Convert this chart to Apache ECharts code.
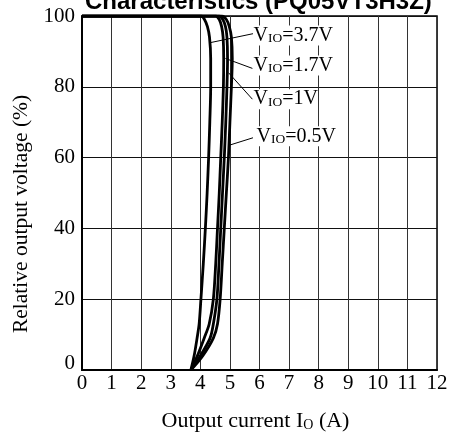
<!DOCTYPE html>
<html>
<head>
<meta charset="utf-8">
<script src="https://cdn.jsdelivr.net/npm/echarts@6/dist/echarts.min.js"></script>
<style>
html,body{margin:0;padding:0;background:#fff;}
#c{width:454px;height:437px;}
</style>
</head>
<body>
<div id="c"></div>
<script>
// ---- data ----
const xTicks = [0,1,2,3,4,5,6,7,8,9,10,11,12];
const yTicks = [0,20,40,60,80,100];
// relative output voltage levels (shared by all curves, from top-left to bottom)
const yLevels = [100, 100, 99, 97, 94, 88, 80, 70, 60, 50, 40, 30, 20, 13, 9, 4, 0];
// output current (A) at each level
const x37 = [0, 4.03, 4.14, 4.24, 4.31, 4.35, 4.35, 4.32, 4.28, 4.23, 4.17, 4.10, 4.02, 3.96, 3.89, 3.79, 3.68];
const x17 = [0, 4.52, 4.64, 4.72, 4.77, 4.79, 4.78, 4.74, 4.69, 4.64, 4.58, 4.52, 4.44, 4.30, 4.13, 3.90, 3.68];
const x10 = [0, 4.63, 4.76, 4.85, 4.90, 4.92, 4.90, 4.86, 4.81, 4.75, 4.69, 4.63, 4.56, 4.44, 4.33, 4.00, 3.68];
const x05 = [0, 4.72, 4.88, 4.98, 5.05, 5.08, 5.05, 5.00, 4.95, 4.88, 4.81, 4.74, 4.67, 4.58, 4.44, 4.08, 3.68];
const seriesNames = ['3.7V', '1.7V', '1V', '0.5V'];
// leader lines: [curve x, curve y, label x, label y]
const leaders = [
  [4.35, 92.5, 5.78, 95.0],
  [4.85, 88.0, 5.76, 85.2],
  [4.95, 84.0, 5.76, 76.5],
  [4.98, 63.5, 5.78, 65.6]
];
// label anchors (left-middle of label text)
const labelPos = [
  [5.80, 94.5],
  [5.80, 86.0],
  [5.80, 76.5],
  [5.90, 66.0]
];

const serif = "'Liberation Serif','DejaVu Serif',serif";
const curves = [x37, x17, x10, x05];

const series = curves.map((xs, i) => ({
  type: 'line',
  name: seriesNames[i],
  data: xs.map((x, k) => [x, yLevels[k]]),
  showSymbol: false,
  symbol: 'none',
  smooth: 0.3,
  lineStyle: { color: '#000', width: 2.8 },
  z: 5,
  markLine: {
    silent: true,
    symbol: ['none', 'none'],
    lineStyle: { color: '#000', width: 1, type: 'solid' },
    label: { show: false },
    data: [[{ coord: [leaders[i][0], leaders[i][1]] }, { coord: [leaders[i][2], leaders[i][3]] }]]
  },
  markPoint: {
    silent: true,
    symbol: 'circle',
    symbolSize: 0,
    label: {
      show: true,
      position: 'right',
      distance: 0,
      formatter: '{v|V}{s|IO}{v|=' + seriesNames[i] + '}',
      backgroundColor: '#fff',
      rich: {
        v: { fontFamily: serif, fontSize: 20, color: '#000', verticalAlign: 'bottom', lineHeight: 20 },
        s: { fontFamily: serif, fontSize: 13.5, color: '#000', verticalAlign: 'bottom', lineHeight: 20 }
      }
    },
    data: [{ coord: labelPos[i] }]
  }
}));

const chart = echarts.init(document.getElementById('c'), null, { renderer: 'canvas' });
chart.setOption({
  animation: false,
  backgroundColor: '#fff',
  title: {
    text: 'Characteristics (PQ05VT3H3Z)',
    left: 80,
    top: -15,
    textStyle: { fontFamily: "'Liberation Sans',Arial,sans-serif", fontWeight: 'bold', fontSize: 24, color: '#000' }
  },
  grid: { left: 82, right: 17, top: 16, bottom: 66, show: true, borderColor: '#000', borderWidth: 1.5 },
  xAxis: {
    type: 'value',
    min: xTicks[0], max: xTicks[xTicks.length - 1], interval: 1,
    name: 'Output current I{s|O} (A)',
    nameLocation: 'middle',
    nameGap: 40,
    nameTextStyle: {
      fontFamily: serif, fontSize: 22, color: '#000', verticalAlign: 'top', padding: [0, 8, 0, 0],
      rich: { s: { fontFamily: serif, fontSize: 14, color: '#000', verticalAlign: 'bottom', lineHeight: 22 } }
    },
    axisLine: { lineStyle: { color: '#000', width: 2 } },
    axisTick: { show: false },
    axisLabel: { fontFamily: serif, fontSize: 21, color: '#000', margin: 3 },
    splitLine: { show: true, lineStyle: { color: '#333', width: 1 } }
  },
  yAxis: {
    type: 'value',
    min: yTicks[0], max: yTicks[yTicks.length - 1], interval: 20,
    name: 'Relative output voltage (%)',
    nameLocation: 'middle',
    nameGap: 47,
    nameTextStyle: { fontFamily: serif, fontSize: 21.5, color: '#000', padding: [0, 42, 0, 0] },
    axisLine: { lineStyle: { color: '#000', width: 2 } },
    axisTick: { show: false },
    axisLabel: {
      fontFamily: serif, fontSize: 21, color: '#000', margin: 7,
      formatter: v => v === 0 ? '{z|0}' : String(v),
      rich: { z: { fontFamily: serif, fontSize: 21, color: '#000', padding: [0, 0, 14, 0] } }
    },
    splitLine: { show: true, lineStyle: { color: '#111', width: 1 } }
  },
  series: series
});
</script>
</body>
</html>
